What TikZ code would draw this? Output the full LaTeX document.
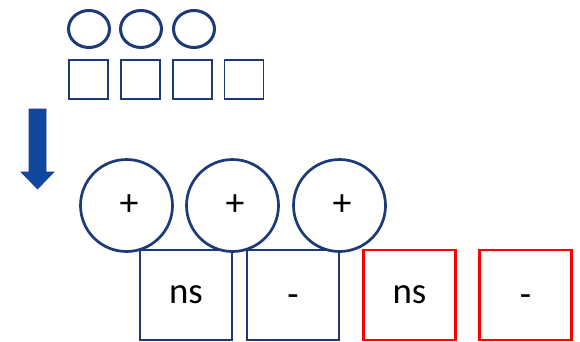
\documentclass[tikz,border=0pt]{standalone}
\usepackage{fontspec}
\setmainfont{Carlito}
\usetikzlibrary{shapes.geometric}
\definecolor{dblue}{RGB}{28,58,120}
\definecolor{afill}{RGB}{16,72,160}
\definecolor{rred}{RGB}{255,0,0}
\newcommand{\plustxt}{\hspace*{5bp}\raisebox{-6bp}{+}}
\newcommand{\minustxt}{\raisebox{-5bp}{-}\vphantom{n}}
\begin{document}
\begin{tikzpicture}[x=1bp,y=-1bp,
  smallell/.style={draw=dblue,line width=3bp,ellipse,minimum width=41bp,minimum height=37bp,inner sep=0pt},
  smallsq/.style={draw=dblue,line width=1.6bp,rectangle,minimum width=39bp,minimum height=39bp,inner sep=0pt},
  bigcirc/.style={draw=dblue,line width=2.7bp,circle,minimum size=92bp,inner sep=0pt,font=\fontsize{38}{44}\selectfont},
  bigsq/.style={draw=dblue,line width=2.1bp,rectangle,minimum width=92bp,minimum height=90bp,inner sep=0pt,font=\fontsize{37}{42}\selectfont},
  redsq/.style={bigsq,draw=rred}]
\useasboundingbox (0,0) rectangle (580,341);
% small ellipses
\node[smallell] (e1) at (89,29) {};
\node[smallell] (e2) at (141,29) {};
\node[smallell] (e3) at (194,29) {};
% small squares
\node[smallsq] (s1) at (88.5,79.5) {};
\node[smallsq] (s2) at (140.5,79.5) {};
\node[smallsq] (s3) at (192.5,79.5) {};
\node[smallsq] (s4) at (244,79.5) {};
% arrow
\draw[fill=afill,draw=dblue,line width=0.6bp] (29,109) -- (46,109) -- (46,172) -- (54,172) -- (37.5,189) -- (21,172) -- (29,172) -- cycle;
% big squares
\node[bigsq] (b1) at (186,295) {ns};
\node[bigsq] (b2) at (293,295) {\minustxt};
\node[redsq] (r1) at (409.5,295) {ns};
\node[redsq] (r2) at (525.5,295) {\minustxt};
% big circles
\node[bigcirc,fill=white] (c1) at (126.5,205.5) {\plustxt};
\node[bigcirc,fill=white] (c2) at (232.5,205.5) {\plustxt};
\node[bigcirc,fill=white] (c3) at (339.5,205.5) {\plustxt};
\end{tikzpicture}
\end{document}
